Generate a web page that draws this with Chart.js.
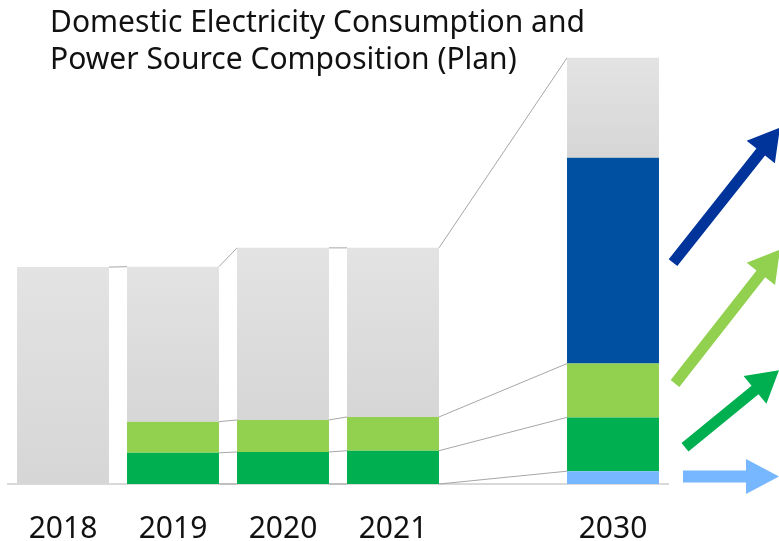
<!DOCTYPE html>
<html>
<head>
<meta charset="utf-8">
<script src="https://cdn.jsdelivr.net/npm/chart.js@4/dist/chart.umd.min.js"></script>
<style>
  html, body { margin: 0; padding: 0; background: #ffffff; }
  #wrap { position: relative; width: 779px; height: 541px; }
  #chart { position: absolute; left: 0; top: 0; }
  #title {
    position: absolute; left: 50px; top: 2px;
    font-family: "Noto Sans", sans-serif; font-size: 30px; line-height: 37px;
    color: #111111; white-space: nowrap;
  }
</style>
</head>
<body>
<div id="wrap">
  <canvas id="chart" width="779" height="541"></canvas>
  <div id="title">Domestic Electricity Consumption and<br>Power Source Composition (Plan)</div>
</div>
<script>
// Fiscal years (blank slot separates actuals from the 2030 plan)
const years = ['2018', '2019', '2020', '2021', '', '2030'];

// Stacked values, bottom to top (share of the 2030 plan = 100)
const lightBlue  = [null, 0,    0,    0,    null, 3.0];
const darkGreen  = [null, 7.3,  7.5,  7.8,  null, 12.6];
const lightGreen = [null, 7.3,  7.5,  7.9,  null, 12.6];
const darkBlue   = [null, null, null, null, null, 48.2];
const otherSrc   = [50.8, 36.3, 40.3, 39.6, null, 23.4];

const COLORS = {
  lightBlue: '#77b7ff',
  darkGreen: '#00b050',
  lightGreen: '#92d050',
  darkBlue: '#0050a2',
  arrowBlue: '#00349b'
};

// Vertical grey gradient for each "other" segment
function greyFill(ctx) {
  const chart = ctx.chart;
  const y = chart.scales && chart.scales.y;
  if (!y || ctx.type !== 'data' || ctx.raw == null) return '#dcdcdc';
  const i = ctx.dataIndex;
  let base = 0;
  for (let d = 0; d < ctx.datasetIndex; d++) base += chart.data.datasets[d].data[i] || 0;
  const top = y.getPixelForValue(base + ctx.raw);
  const bot = y.getPixelForValue(base);
  if (!isFinite(top) || !isFinite(bot) || top === bot) return '#dcdcdc';
  const g = chart.ctx.createLinearGradient(0, top, 0, bot);
  g.addColorStop(0, '#e3e3e3');
  g.addColorStop(1, '#d6d6d6');
  return g;
}

// Thin lines joining each series' top edge between neighbouring bars
const seriesLines = {
  id: 'seriesLines',
  beforeDatasetsDraw(chart) {
    const c = chart.ctx;
    c.save();
    c.strokeStyle = '#a6a6a6';
    c.lineWidth = 1;
    chart.data.datasets.forEach((ds, di) => {
      const meta = chart.getDatasetMeta(di);
      const idx = ds.data.map((v, i) => (v == null ? -1 : i)).filter(i => i >= 0);
      for (let k = 0; k < idx.length - 1; k++) {
        const a = meta.data[idx[k]], b = meta.data[idx[k + 1]];
        c.beginPath();
        c.moveTo(a.x + a.width / 2, a.y);
        c.lineTo(b.x - b.width / 2, b.y);
        c.stroke();
      }
    });
    c.restore();
  }
};

// Block arrows beside the 2030 bar, one per growing power source
function blockArrow(c, x0, y0, x1, y1, shaft, headW, headL, color) {
  const dx = x1 - x0, dy = y1 - y0, len = Math.hypot(dx, dy);
  const ux = dx / len, uy = dy / len, nx = -uy, ny = ux;
  const bx = x1 - ux * headL, by = y1 - uy * headL;
  c.beginPath();
  c.moveTo(x0 + nx * shaft / 2, y0 + ny * shaft / 2);
  c.lineTo(bx + nx * shaft / 2, by + ny * shaft / 2);
  c.lineTo(bx + nx * headW / 2, by + ny * headW / 2);
  c.lineTo(x1, y1);
  c.lineTo(bx - nx * headW / 2, by - ny * headW / 2);
  c.lineTo(bx - nx * shaft / 2, by - ny * shaft / 2);
  c.lineTo(x0 - nx * shaft / 2, y0 - ny * shaft / 2);
  c.closePath();
  c.fillStyle = color;
  c.fill();
}

const trendArrows = {
  id: 'trendArrows',
  afterDraw(chart) {
    const c = chart.ctx;
    const right = chart.chartArea.right;
    const last = years.length - 1;
    const mid = di => {
      const el = chart.getDatasetMeta(di).data[last];
      return (el.y + el.base) / 2;
    };
    c.save();
    blockArrow(c, right + 5,  mid(3) + 2, right + 112, mid(3) - 133, 11, 36, 31, COLORS.arrowBlue);
    blockArrow(c, right + 7,  mid(2) - 7, right + 112, mid(2) - 141, 11, 36, 31, COLORS.lightGreen);
    blockArrow(c, right + 17, mid(1) + 3, right + 111, mid(1) - 74, 11, 36, 31, COLORS.darkGreen);
    blockArrow(c, right + 15, mid(0) - 1, right + 111, mid(0) - 1, 12, 35, 33, COLORS.lightBlue);
    c.restore();
  }
};

new Chart(document.getElementById('chart'), {
  type: 'bar',
  data: {
    labels: years,
    datasets: [
      { label: 'Light blue', data: lightBlue, backgroundColor: COLORS.lightBlue },
      { label: 'Dark green', data: darkGreen, backgroundColor: COLORS.darkGreen },
      { label: 'Light green', data: lightGreen, backgroundColor: COLORS.lightGreen },
      { label: 'Dark blue', data: darkBlue, backgroundColor: COLORS.darkBlue },
      { label: 'Other', data: otherSrc, backgroundColor: greyFill }
    ]
  },
  options: {
    responsive: false,
    animation: false,
    events: [],
    layout: { padding: { left: 8, right: 111, top: 57, bottom: 0 } },
    datasets: { bar: { categoryPercentage: 1, barPercentage: 0.836, borderWidth: 0 } },
    plugins: { legend: { display: false }, tooltip: { enabled: false }, title: { display: false } },
    scales: {
      x: {
        stacked: true,
        grid: { display: false, drawTicks: false },
        border: { display: true, color: '#d9d9d9', width: 2 },
        ticks: {
          color: '#111111',
          padding: 27,
          autoSkip: false,
          maxRotation: 0,
          font: { family: 'Noto Sans', size: 30, lineHeight: 1.2 }
        },
        // keep the axis band short so the year labels sit near the bottom edge
        afterFit(scale) { scale.height = 57; }
      },
      y: { stacked: true, display: false, min: 0, max: 100 }
    }
  },
  plugins: [seriesLines, trendArrows]
});
</script>
</body>
</html>
